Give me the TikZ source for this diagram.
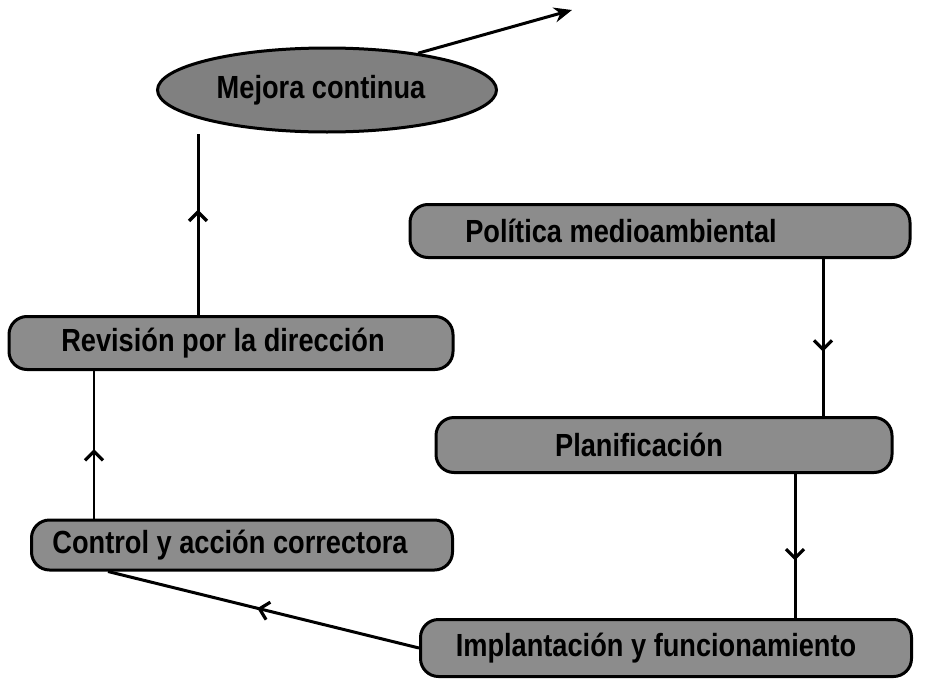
\documentclass[tikz,border=0pt]{standalone}
\usepackage{fontspec}
\setmainfont{Liberation Sans}[FakeStretch=0.85]
\usetikzlibrary{shapes.geometric,arrows.meta,decorations.markings,backgrounds}
\begin{document}
\begin{tikzpicture}[x=1pt,y=-1pt,
  boxtext/.style={font=\fontsize{32}{34}\selectfont\bfseries, text=black},
  boxstyle/.style={boxtext, draw=black, line width=3pt, fill=black!45, rounded corners=18pt, inner sep=0pt},
  ellstyle/.style={boxtext, ellipse, draw=black, line width=3pt, fill=black!50, inner sep=0pt},
  conn/.style={line width=3pt, draw=black},
  midarr/.style={postaction={decorate}, decoration={markings, mark=at position #1 with {\arrow{Straight Barb[length=9pt,width=18pt,line width=3.2pt]}}}}
]
\useasboundingbox (0,0) rectangle (928,680);

% nodes
\node[ellstyle, minimum width=339pt, minimum height=84pt] (mejora) at (327,90) {Mejora continua\kern12pt};
\node[boxstyle, minimum width=500pt, minimum height=53pt] (politica) at (660,231) {Política medioambiental\kern78pt};
\node[boxstyle, minimum width=456pt, minimum height=55pt] (planif) at (664,445) {Planificación\kern50pt};
\node[boxstyle, minimum width=491pt, minimum height=57pt] (implant) at (666,648) {Implantación y funcionamiento\kern20pt};
\node[boxstyle, minimum width=444pt, minimum height=53pt] (revision) at (231,343) {Revisión por la dirección\kern16pt};
\node[boxstyle, minimum width=421pt, minimum height=50pt] (control) at (242,545) {Control y acción correctora\kern24pt};

% helper coordinates
\coordinate (xa) at (198,0);
\coordinate (xb) at (823,0);
\coordinate (xc) at (795,0);
\coordinate (xd) at (94,0);
\coordinate (xe) at (108,0);
\coordinate (mejoraout) at (572,10);

% connectors
\begin{scope}[on background layer]
\draw[conn, midarr=0.58] (revision.north -| xa) -- (mejora.south -| xa);
\draw[conn, midarr=0.59] (politica.south -| xb) -- (planif.north -| xb);
\draw[conn, midarr=0.60] (planif.south -| xc) -- (implant.north -| xc);
\draw[conn, line width=2pt, midarr=0.47] (control.north -| xd) -- (revision.south -| xd);
\draw[conn, midarr=0.52] (implant.west) -- (control.south -| xe);
\end{scope}
\draw[conn, -{Stealth[length=18pt,width=15pt]}] (mejora.22) -- (mejoraout);
\end{tikzpicture}
\end{document}
